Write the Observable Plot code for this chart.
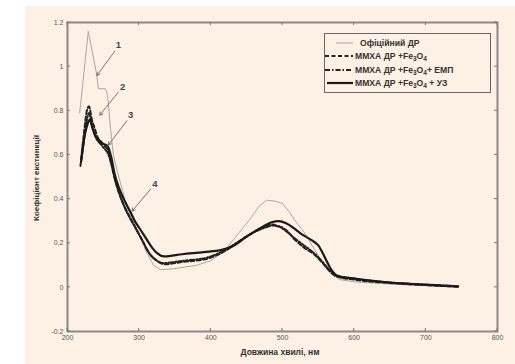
<!DOCTYPE html>
<html><head><meta charset="utf-8">
<script src="https://cdn.jsdelivr.net/npm/d3@7"></script>
<script src="https://cdn.jsdelivr.net/npm/@observablehq/plot@0.6"></script>
<style>
html,body{margin:0;padding:0;background:#fff;}
#wrap{position:relative;width:515px;height:364px;overflow:hidden;}
#panel{position:absolute;left:25px;top:6px;width:490px;height:358px;background:#fdf0e4;}
#chart{position:absolute;left:0;top:0;}
#legend{position:absolute;left:324px;top:33px;width:167px;height:60px;border:1.5px solid #666;background:#fdf0e4;box-sizing:border-box;font:bold 8.6px Arial,"Liberation Sans",sans-serif;color:#333;}
.row{position:absolute;left:0;height:12px;display:flex;align-items:center;white-space:nowrap;}
.row svg{margin-right:1px;}
sub{font-size:6.5px;vertical-align:-2px;line-height:0;}
</style></head>
<body><div id="wrap"><div id="panel"></div><div id="chart"></div><div id="legend"></div></div>
<script>
// Series: Офіційний ДР (grey, thin)
const wlOfficial = [217,229,241,243,253,256,260,264,270,280,290,300,310,320,330,350,380,400,420,440,455,468,478,490,500,510,518,530,545,558,568,580,600,650,700,745];
const kOfficial  = [0.79,1.16,0.96,0.90,0.90,0.87,0.72,0.60,0.52,0.40,0.31,0.24,0.16,0.10,0.08,0.085,0.10,0.12,0.17,0.25,0.31,0.37,0.395,0.39,0.38,0.34,0.30,0.25,0.17,0.10,0.06,0.035,0.025,0.015,0.008,0.0];
// ММХА ДР +Fe3O4 (dashed)
const wlFe = [219,223,227,230,234,238,242,247,252,257,262,267,275,285,295,305,315,325,335,360,395,420,440,460,475,482,492,505,516,530,544,556,564,575,600,650,700,745];
const kFe  = [0.58,0.70,0.80,0.82,0.76,0.72,0.68,0.66,0.64,0.62,0.55,0.48,0.40,0.33,0.27,0.21,0.15,0.12,0.105,0.115,0.13,0.165,0.21,0.25,0.275,0.285,0.28,0.26,0.22,0.18,0.15,0.11,0.08,0.05,0.035,0.02,0.01,0.003];
// ММХА ДР +Fe3O4 + ЕМП (dash-dot)
const wlEmp = [218,222,226,230,233,237,241,246,251,256,261,266,274,283,293,303,313,323,333,360,395,420,440,460,475,485,495,505,516,530,544,556,565,575,600,650,700,745];
const kEmp  = [0.55,0.64,0.74,0.79,0.75,0.70,0.67,0.65,0.63,0.61,0.56,0.49,0.41,0.34,0.28,0.22,0.16,0.125,0.11,0.12,0.135,0.17,0.21,0.25,0.27,0.28,0.275,0.255,0.225,0.19,0.155,0.115,0.08,0.055,0.04,0.022,0.012,0.004];
// ММХА ДР +Fe3O4 + УЗ (solid)
const wlUz = [219,223,228,231,235,240,245,250,256,261,266,272,280,288,294,300,310,318,325,335,360,390,415,430,450,470,485,495,505,515,525,540,550,560,568,578,600,650,700,745];
const kUz  = [0.57,0.67,0.74,0.76,0.72,0.68,0.66,0.65,0.64,0.59,0.51,0.45,0.39,0.34,0.30,0.27,0.22,0.18,0.155,0.14,0.15,0.16,0.17,0.185,0.23,0.27,0.295,0.30,0.29,0.27,0.245,0.215,0.19,0.13,0.08,0.05,0.04,0.022,0.012,0.005];

const xTicks = [200,300,400,500,600,700,800];
const yTicks = [-0.2,0,0.2,0.4,0.6,0.8,1,1.2];

// Annotations: label number, label position, arrow start/end
const annLabels = ["1","2","3","4"];
const annLabelX = [271,277,288,322];
const annLabelY = [1.10,0.91,0.78,0.47];
const annX1 = [266,271,283,316];
const annY1 = [1.07,0.885,0.755,0.445];
const annX2 = [241,245,257,290];
const annY2 = [0.96,0.78,0.645,0.345];

const legendNames = ["Офіційний ДР","ММХА ДР +Fe<sub>3</sub>O<sub>4</sub>","ММХА ДР +Fe<sub>3</sub>O<sub>4</sub>+ ЕМП","ММХА ДР +Fe<sub>3</sub>O<sub>4</sub> + УЗ"];

const toRows = (xs, ys) => xs.map((x,i)=>({x, y: ys[i]}));
const styles = [
  {stroke:"#a8a8a8", strokeWidth:1, dash:null},
  {stroke:"#222", strokeWidth:2, dash:"4,2.5"},
  {stroke:"#222", strokeWidth:2, dash:"5,2,1.5,2"},
  {stroke:"#1a1a1a", strokeWidth:2.2, dash:null}
];
const series = [toRows(wlOfficial,kOfficial), toRows(wlFe,kFe), toRows(wlEmp,kEmp), toRows(wlUz,kUz)];
const ann = annLabels.map((t,i)=>({t, lx:annLabelX[i], ly:annLabelY[i], x1:annX1[i], y1:annY1[i], x2:annX2[i], y2:annY2[i]}));

const font = 'Arial, "Liberation Sans", sans-serif';
const plot = Plot.plot({
  width: 515, height: 364,
  marginLeft: 67, marginRight: 18, marginTop: 22, marginBottom: 33,
  style: {background: "transparent", fontFamily: font},
  x: {domain: [200, 800]},
  y: {domain: [-0.2, 1.2]},
  marks: [
    Plot.axisX({ticks: xTicks, tickSize: 0, tickPadding: 4, fontSize: 7, fill:"#555", label: null, tickFormat: d=>String(d)}),
    Plot.axisY({ticks: yTicks, tickSize: 0, tickPadding: 4, fontSize: 7, fill:"#555", label: null, tickFormat: d=>String(d)}),
    ...series.map((s,i)=>Plot.line(s, {x:"x", y:"y", stroke: styles[i].stroke, strokeWidth: styles[i].strokeWidth, strokeDasharray: styles[i].dash, curve: i===0 ? "linear" : "monotone-x"})),
    Plot.arrow(ann, {x1:"x1", y1:"y1", x2:"x2", y2:"y2", stroke:"#777", strokeWidth:1, headLength: 5}),
    Plot.text(ann, {x:"lx", y:"ly", text:"t", fontSize: 9.5, fontWeight:"bold", fill:"#444"}),
    Plot.frame({stroke:"#8a8a8a", strokeWidth: 2})
  ]
});
document.getElementById("chart").appendChild(plot);

// Inward ticks drawn with D3 on the same Plot scales
const sx = plot.scale("x"), sy = plot.scale("y");
const svg = d3.select(plot);
const g = svg.append("g").attr("stroke","#777").attr("stroke-width",1);
const X = v => sx.apply(v), Y = v => sy.apply(v);
xTicks.forEach(t=>{
  g.append("line").attr("x1",X(t)).attr("x2",X(t)).attr("y1",Y(-0.2)).attr("y2",Y(-0.2)-3);
  g.append("line").attr("x1",X(t)).attr("x2",X(t)).attr("y1",Y(1.2)).attr("y2",Y(1.2)+3);
});
yTicks.forEach(t=>{
  g.append("line").attr("y1",Y(t)).attr("y2",Y(t)).attr("x1",X(200)).attr("x2",X(200)+3);
  g.append("line").attr("y1",Y(t)).attr("y2",Y(t)).attr("x1",X(800)).attr("x2",X(800)-3);
});
// axis titles
svg.append("text").attr("x", 280).attr("y", 355).attr("text-anchor","middle")
  .attr("font-family", font).attr("font-size", 8.5).attr("font-weight","bold").attr("fill","#333")
  .text("Довжина хвилі, нм");
svg.append("text").attr("transform","translate(39,178) rotate(-90)").attr("text-anchor","middle")
  .attr("font-family", font).attr("font-size", 8).attr("font-weight","bold").attr("fill","#333")
  .text("Коефіцієнт екстинкції");

// legend
const leg = document.getElementById("legend");
const rowTops = [3, 16, 30, 43];
const lineX = [[11,28],[0,28],[0,28],[2,28]];
legendNames.forEach((name,i)=>{
  const r = document.createElement("div");
  r.className = "row";
  r.style.top = rowTops[i] + "px";
  r.style.left = "0px";
  const st = styles[i];
  r.innerHTML = `<svg width="${i===0?34:29}" height="8"><line x1="${lineX[i][0]}" x2="${lineX[i][1]}" y1="4" y2="4" stroke="${st.stroke}" stroke-width="${st.strokeWidth}" ${st.dash?`stroke-dasharray="${st.dash}"`:""}/></svg><span>${name}</span>`;
  leg.appendChild(r);
});
</script></body></html>
